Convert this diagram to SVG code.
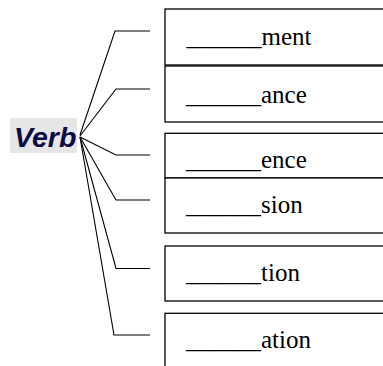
<svg xmlns="http://www.w3.org/2000/svg" width="383" height="366" viewBox="0 0 383 366">
<style>
.box{fill:#fff;stroke:#000;stroke-width:1.3}
.c{fill:none;stroke:#000;stroke-width:1.1}
</style>
<rect width="383" height="366" fill="#fff"/>
<g id="connectors">
<polyline class="c" points="80,135 115,31 150,31"/>
<polyline class="c" points="80,136 116,89 150,89"/>
<polyline class="c" points="80,137 116,155 150,155"/>
<polyline class="c" points="80,137 116,200 150,200"/>
<polyline class="c" points="80,137 116,268.5 150,268.5"/>
<polyline class="c" points="80,137 114,335 150,335"/>
</g>
<g id="verb">
<rect x="10" y="118" width="67" height="35" fill="#e6e6e6"/>
<text x="14" y="147" font-family="Liberation Sans, Arial, sans-serif" font-size="28.5" font-weight="bold" font-style="italic" fill="#0b0b45">Verb</text>
</g>
<g font-family="Liberation Serif, DejaVu Serif, serif" font-size="25" fill="#000">
<g id="ment"><rect class="box" x="165" y="9" width="220" height="56"/><text x="186.5" y="45">______ment</text></g>
<g id="ance"><rect class="box" x="165" y="66" width="220" height="56"/><text x="186" y="102.5">______ance</text></g>
<g id="ence"><rect class="box" x="165" y="133.3" width="220" height="44.7"/><text x="186" y="168">______ence</text></g>
<g id="sion"><rect class="box" x="165" y="178" width="220" height="55"/><text x="186" y="213">______sion</text></g>
<g id="tion"><rect class="box" x="165" y="246" width="220" height="55"/><text x="186" y="281">______tion</text></g>
<g id="ation"><rect class="box" x="165" y="313.3" width="220" height="60"/><text x="186" y="348">______ation</text></g>
</g>
</svg>
